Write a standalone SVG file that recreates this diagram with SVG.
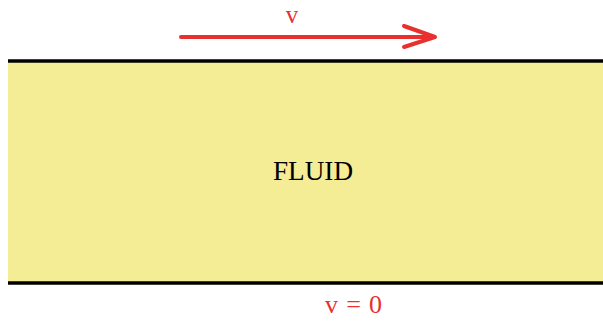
<svg xmlns="http://www.w3.org/2000/svg" width="603" height="322" viewBox="0 0 603 322">
<style>
.red{fill:#e8302f;font-family:"Liberation Serif",serif}
.arrow{stroke:#e8302f;stroke-width:4;fill:none;stroke-linecap:round;stroke-linejoin:round}
.wall{stroke:#000;stroke-width:3.5}
</style>
<rect width="603" height="322" fill="#fff"/>
<g id="fluid">
<rect x="8" y="61" width="595" height="222" fill="#f5ec96"/>
<line class="wall" x1="8" y1="61" x2="603" y2="61"/>
<line class="wall" x1="8" y1="283" x2="603" y2="283"/>
<text x="313" y="180" font-family="'Liberation Serif',serif" font-size="27" text-anchor="middle" textLength="80" lengthAdjust="spacingAndGlyphs">FLUID</text>
</g>
<g id="connectors">
<line class="arrow" x1="181" y1="37" x2="434" y2="37"/>
<polyline class="arrow" points="404,26 435,37 404,47"/>
</g>
<g id="labels">
<text class="red" x="292" y="23" font-size="25" text-anchor="middle">v</text>
<text class="red" x="325" y="313" font-size="26" textLength="57" lengthAdjust="spacing">v = 0</text>
</g>
</svg>
